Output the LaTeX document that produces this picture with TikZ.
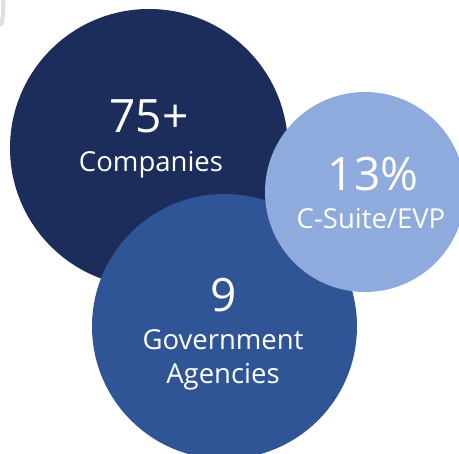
\documentclass[tikz,border=0pt]{standalone}
\usepackage{fontspec}
\setmainfont{Open Sans}
\definecolor{navy}{HTML}{1C2D5B}
\definecolor{midblue}{HTML}{2F5597}
\definecolor{paleblue}{HTML}{8FAADC}
\tikzset{
  bubble/.style={circle, inner sep=0pt, minimum size=#1},
  bignum/.style={text=white, anchor=base, font=\fontsize{46}{46}\selectfont},
  caption/.style={text=white, anchor=base, font=\fontsize{27.5}{32}\selectfont},
}
\begin{document}
\begin{tikzpicture}[x=1pt, y=-1pt]
      \useasboundingbox (0,0) rectangle (459,454);
      \clip (0,0) rectangle (459,454);
      % faint edge at the top left corner
      \draw [gray!25, line width=4pt] (3,0) to[bend left=8] (1,26);
      % bubbles, back to front
      \node [bubble=278pt, fill=navy] (companies) at (149,148) {};
      \node [bubble=265pt, fill=midblue] (agencies) at (224.5,326.5) {};
      \node [bubble=200pt, fill=paleblue] (csuite) at (365,192) {};
      % texts
      \node [bignum] (num75) at (149,133) {75+};
      \node [caption] (lbl75) at (151,172) {Companies};
      \node [bignum] (num13) at (373,191) {13\%};
      \node [caption] (lbl13) at (371,229) {C-Suite/EVP};
      \node [bignum] (num9) at (224,312) {9};
      \node [caption] (lbl9) at (223,350) {Government};
      \node [caption] (lbl9b) at (223,384) {Agencies};
    \end{tikzpicture}
\end{document}
